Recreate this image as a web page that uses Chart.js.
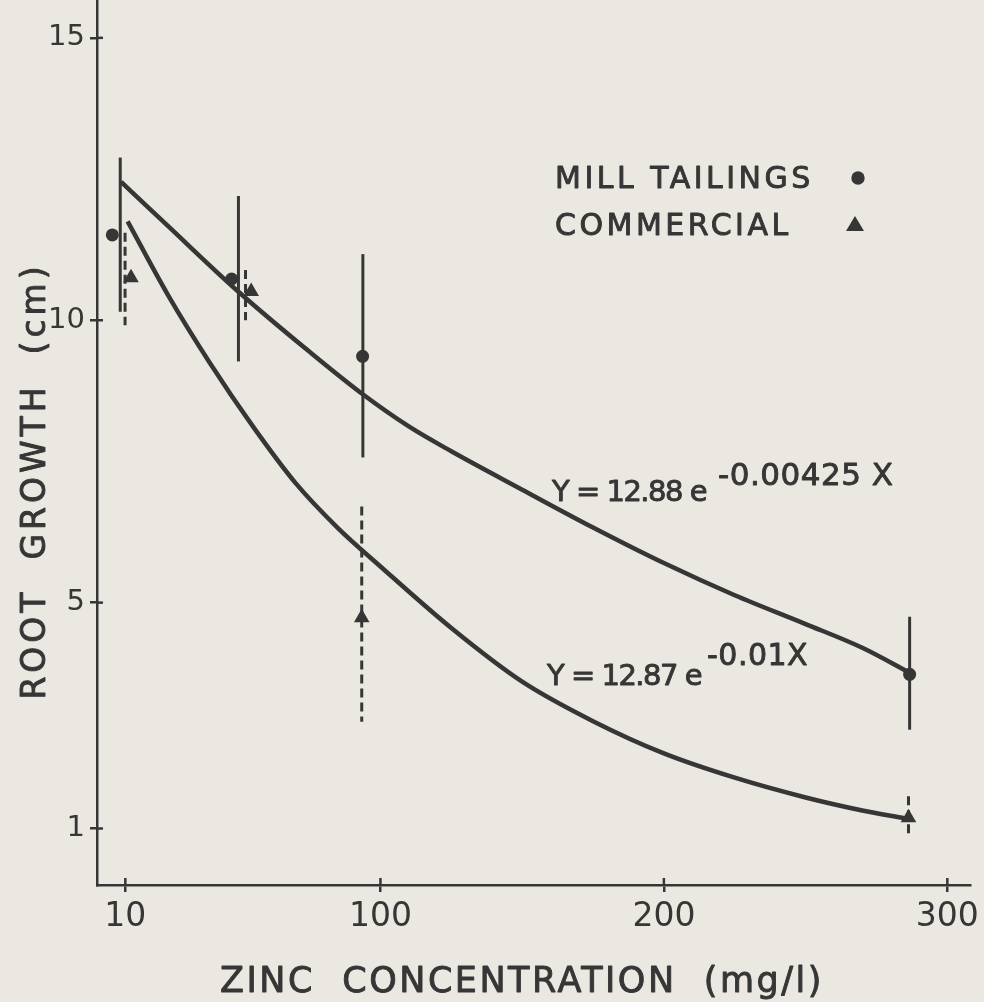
<!DOCTYPE html>
<html>
<head>
<meta charset="utf-8">
<script src="https://cdn.jsdelivr.net/npm/chart.js@4.4.0/dist/chart.umd.min.js"></script>
<style>
  html, body { margin: 0; padding: 0; background: #eae8e0; }
  canvas { display: block; }
</style>
</head>
<body>
<canvas id="growth" width="984" height="1002"></canvas>
<script>
// valores
const xTicks = [10, 100, 200, 300];
const yTicks = [1, 5, 10, 15];

// curva ajustada - mill tailings (Y = 12.88 e^-0.00425X)
const millCurveX = [8.5, 25, 50, 75, 94, 110, 125, 150, 175, 200, 225, 250, 270, 287];
const millCurveY = [12.45, 11.67, 10.5, 9.44, 8.68, 8.12, 7.68, 7.0, 6.33, 5.7, 5.13, 4.62, 4.2, 3.75];
// curva ajustada - commercial (Y = 12.87 e^-0.01X)
const commCurveX = [10.8, 25, 40, 55, 70, 85, 100, 125, 150, 175, 200, 225, 250, 270, 285];
const commCurveY = [11.75, 10.45, 9.23, 8.12, 7.12, 6.32, 5.64, 4.55, 3.6, 2.9, 2.33, 1.9, 1.55, 1.32, 1.18];

// médias
const millX = [5.4, 47.5, 93.7, 286.7];
const millY = [11.51, 10.73, 9.36, 3.73];
const commX = [12.0, 54.4, 93.4, 286.3];
const commY = [10.75, 10.51, 4.73, 1.19];

// barras de erro
const millBarX = [8.2, 49.9, 93.8, 286.7];
const millLow = [10.15, 9.27, 7.57, 2.75];
const millHigh = [12.88, 12.2, 11.17, 4.75];
const commBarX = [9.9, 52.4, 93.4, 286.3];
const commLow = [9.91, 10.0, 2.89, 0.84];
const commHigh = [11.55, 10.89, 6.70, 1.57];

const ink = '#363636';
const paper = '#eae8e0';
const font = '"DejaVu Sans", sans-serif';

const pts = (xs, ys) => xs.map((x, i) => ({ x: x, y: ys[i] }));

// texto com traço levemente mais grosso (letreiro)
function text (ctx, str, x, y, size, spacing, align) {
    ctx.font = size + 'px ' + font;
    ctx.letterSpacing = spacing + 'px';
    ctx.textAlign = align || 'left';
    ctx.textBaseline = 'alphabetic';
    ctx.lineWidth = 0.9;
    ctx.lineJoin = 'round';
    ctx.fillText(str, x, y);
    ctx.strokeText(str, x, y);
}

// barras, ticks internos, legenda e textos
const extras = {
    id: 'extras',
    beforeDraw (chart) {
        const ctx = chart.ctx;
        ctx.save();
        ctx.fillStyle = paper;
        ctx.fillRect(0, 0, chart.width, chart.height);
        ctx.restore();
    },
    beforeDatasetsDraw (chart) {
        const { ctx, scales: { x, y } } = chart;
        ctx.save();
        ctx.strokeStyle = ink;
        ctx.lineWidth = 3;
        ctx.lineCap = 'butt';
        millBarX.forEach((v, i) => {
            ctx.beginPath();
            ctx.moveTo(x.getPixelForValue(v), y.getPixelForValue(millLow[i]));
            ctx.lineTo(x.getPixelForValue(v), y.getPixelForValue(millHigh[i]));
            ctx.stroke();
        });
        ctx.setLineDash([9, 5]);
        commBarX.forEach((v, i) => {
            ctx.beginPath();
            ctx.moveTo(x.getPixelForValue(v), y.getPixelForValue(commHigh[i]));
            ctx.lineTo(x.getPixelForValue(v), y.getPixelForValue(commLow[i]));
            ctx.stroke();
        });
        ctx.setLineDash([]);
        // parte interna dos ticks
        ctx.lineWidth = 2.5;
        xTicks.forEach(v => {
            const px = x.getPixelForValue(v);
            ctx.beginPath();
            ctx.moveTo(px, y.bottom);
            ctx.lineTo(px, y.bottom - 7);
            ctx.stroke();
        });
        yTicks.forEach(v => {
            const py = y.getPixelForValue(v);
            ctx.beginPath();
            ctx.moveTo(x.left, py);
            ctx.lineTo(x.left + 6, py);
            ctx.stroke();
        });
        ctx.restore();
    },
    afterDraw (chart) {
        const ctx = chart.ctx;
        ctx.save();
        ctx.fillStyle = ink;
        ctx.strokeStyle = ink;

        // legenda
        text(ctx, 'MILL TAILINGS', 555, 188, 30, 3.5);
        text(ctx, 'COMMERCIAL', 555, 235, 30, 3.5);
        ctx.beginPath();
        ctx.arc(858, 178, 6.7, 0, Math.PI * 2);
        ctx.fill();
        ctx.beginPath();
        ctx.moveTo(855, 216);
        ctx.lineTo(864, 231);
        ctx.lineTo(846, 231);
        ctx.closePath();
        ctx.fill();

        // equações
        text(ctx, 'Y = 12.88 e', 552, 501, 29, -1.5);
        text(ctx, '-0.00425 X', 718, 485, 31, 0.5);
        text(ctx, 'Y = 12.87 e', 547, 685, 29, -1.5);
        text(ctx, '-0.01X', 707, 665, 30, 0.5);

        // títulos dos eixos
        text(ctx, 'ZINC  CONCENTRATION  (mg/l)', 522, 992, 35, 2.5, 'center');
        ctx.translate(45, 481);
        ctx.rotate(-Math.PI / 2);
        text(ctx, 'ROOT  GROWTH  (cm)', 0, 0, 33, 4, 'center');
        ctx.restore();
    }
};

const growthCtx = document.getElementById('growth').getContext('2d');
const growth = new Chart(growthCtx, {
    type: 'scatter',
    data: {
        datasets: [{
            label: 'Mill tailings fit',
            data: pts(millCurveX, millCurveY),
            showLine: true,
            borderColor: ink,
            borderWidth: 4.5,
            pointRadius: 0,
            cubicInterpolationMode: 'monotone'
        }, {
            label: 'Commercial fit',
            data: pts(commCurveX, commCurveY),
            showLine: true,
            borderColor: ink,
            borderWidth: 4.5,
            pointRadius: 0,
            cubicInterpolationMode: 'monotone'
        }, {
            label: 'MILL TAILINGS',
            data: pts(millX, millY),
            pointStyle: 'circle',
            pointRadius: 6.5,
            backgroundColor: ink,
            borderWidth: 0
        }, {
            label: 'COMMERCIAL',
            data: pts(commX, commY),
            pointStyle: 'triangle',
            pointRadius: 9,
            backgroundColor: ink,
            borderWidth: 0
        }]
    },
    options: {
        responsive: false,
        animation: false,
        layout: { autoPadding: false, padding: { left: 0, right: 14, top: 0, bottom: 0 } },
        plugins: {
            legend: { display: false },
            tooltip: { enabled: false }
        },
        scales: {
            x: {
                type: 'linear',
                min: 0,
                max: 308,
                afterBuildTicks: scale => { scale.ticks = xTicks.map(v => ({ value: v })); },
                afterFit: scale => { scale.height = 117; scale.paddingLeft = 0; scale.paddingRight = 0; },
                border: { display: true, color: ink, width: 2.5 },
                grid: { drawOnChartArea: false, drawTicks: true, tickLength: 7, color: ink, lineWidth: 2.5 },
                ticks: { color: ink, font: { family: font, size: 33 }, padding: 6, maxRotation: 0, autoSkip: false }
            },
            y: {
                type: 'linear',
                min: 0,
                max: 15.67,
                afterBuildTicks: scale => { scale.ticks = yTicks.map(v => ({ value: v })); },
                afterFit: scale => { scale.width = 97; scale.paddingTop = 0; scale.paddingBottom = 0; },
                border: { display: true, color: ink, width: 2.5 },
                grid: { drawOnChartArea: false, drawTicks: true, tickLength: 7, color: ink, lineWidth: 2.5 },
                ticks: { color: ink, font: { family: font, size: 29 }, padding: 5, autoSkip: false }
            }
        }
    },
    plugins: [extras]
});
</script>
</body>
</html>
